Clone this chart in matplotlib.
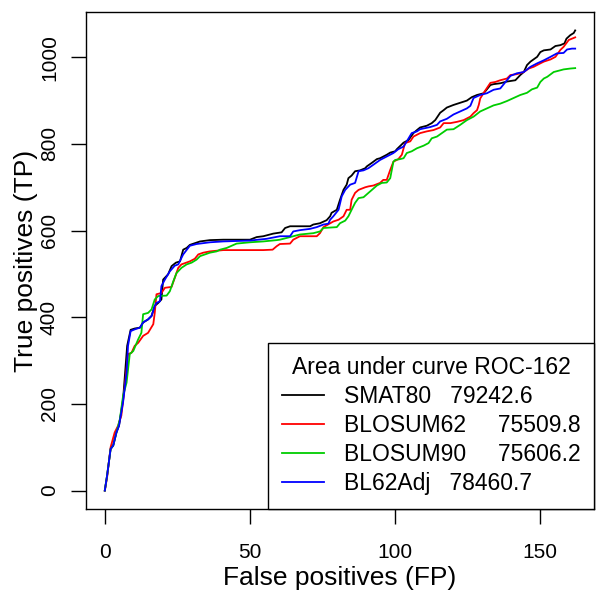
import matplotlib
matplotlib.use("Agg")
import matplotlib.pyplot as plt

plt.rcParams['font.family'] = ['Liberation Sans', 'DejaVu Sans']

# SMAT80
smat_fp = [0, 0.8, 2.0, 2.9, 4.0, 4.9, 6.3, 7.7, 8.9, 10.3, 12.1, 13.2, 14.9, 16.1, 17.2, 18.4,
           19.5, 20.1, 21.8, 23.0, 24.5, 25.9, 27.0, 28.2, 29.3, 32.8, 36.2, 40.8, 50.0, 52.3,
           54.6, 58.0, 60.9, 62.1, 63.8, 70.7, 71.8, 74.1, 76.4, 77.6, 78.1, 79.9, 81.0, 82.2,
           83.3, 83.9, 85.0, 86.2, 87.9, 89.7, 90.2, 91.9, 93.7, 94.8, 97.1, 98.3, 100.0, 100.6,
           102.9, 104.6, 106.3, 107.5, 108.6, 110.9, 112.6, 113.8, 115.5, 116.7, 117.8, 120.1,
           122.4, 124.7, 126.4, 128.2, 130.5, 132.8, 133.9, 136.2, 138.5, 141.4, 143.1, 144.3,
           145.4, 146.6, 148.9, 150.0, 151.2, 153.5, 155.2, 156.9, 158.3, 159.0, 160.3, 161.5, 162.0]
smat_tp = [0, 35, 96, 104, 134, 150, 211, 334, 371, 374, 376, 388, 395, 403, 426, 433,
           441, 487, 499, 518, 526, 529, 556, 560, 567, 575, 578, 579, 579, 585,
           587, 593, 596, 606, 610, 610, 614, 617, 624, 633, 641, 648, 671, 694,
           706, 721, 727, 737, 739, 744, 748, 756, 765, 767, 775, 780, 783, 788,
           803, 809, 825, 832, 838, 842, 848, 855, 872, 878, 884, 890,
           895, 900, 908, 913, 917, 936, 938, 940, 944, 947, 959, 966,
           982, 990, 1001, 1012, 1016, 1018, 1026, 1028, 1032, 1043, 1051, 1056, 1062]

# BLOSUM62
b62_fp = [0, 0.8, 2.0, 3.4, 4.6, 5.7, 6.9, 8.0, 9.2, 10.3, 11.5, 13.2, 14.9, 16.7, 17.2, 17.8,
          19.5, 20.7, 23.0, 24.1, 25.3, 26.4, 29.3, 31.0, 32.2, 33.9, 36.2, 40.8, 54.6, 57.8,
          59.2, 60.3, 63.8, 64.9, 67.2, 73.0, 74.1, 75.3, 78.7, 80.5, 82.2, 83.3, 84.5, 85.0,
          86.2, 87.4, 89.7, 90.8, 92.5, 94.8, 95.9, 97.1, 98.3, 99.4, 101.1, 102.3, 103.4, 105.2,
          106.3, 108.6, 110.9, 113.2, 115.5, 116.7, 119.0, 121.3, 123.6, 125.9, 127.0, 128.2,
          128.8, 129.3, 130.5, 132.8, 134.5, 136.2, 138.5, 139.7, 141.9, 144.3, 146.0, 147.7,
          150.0, 151.2, 153.5, 155.2, 156.9, 158.0, 159.8, 160.9, 162.0]
b62_tp = [0, 31, 100, 134, 150, 173, 242, 315, 318, 334, 341, 357, 364, 384, 410, 453,
          456, 468, 470, 491, 514, 522, 529, 535, 545, 549, 552, 555, 555, 556,
          564, 569, 570, 579, 587, 587, 594, 608, 621, 625, 633, 648, 648, 671,
          687, 694, 700, 702, 704, 710, 717, 717, 740, 759, 765, 775, 802, 806,
          817, 825, 829, 832, 838, 848, 848, 851, 855, 863, 871, 878,
          890, 905, 918, 941, 943, 947, 951, 959, 961, 966, 974, 978,
          986, 990, 995, 1001, 1017, 1024, 1040, 1043, 1046]

# BLOSUM90
b90_fp = [0, 0.8, 2.0, 2.9, 4.0, 5.2, 6.3, 7.5, 8.6, 9.8, 11.5, 12.6, 13.2, 14.9, 16.1, 17.2,
          18.4, 21.3, 22.4, 23.6, 24.7, 26.4, 28.2, 29.9, 31.6, 32.8, 34.5, 36.2, 38.5, 39.7,
          42.0, 45.4, 50.0, 54.6, 59.2, 60.3, 63.8, 67.2, 71.8, 74.1, 75.3, 79.9, 81.0, 82.8,
          83.9, 85.0, 86.2, 87.4, 89.1, 90.8, 92.0, 93.7, 95.4, 97.1, 98.3, 99.4, 100.0, 101.7,
          102.9, 104.0, 105.7, 107.5, 109.8, 111.5, 112.6, 114.4, 116.1, 117.8, 120.1, 122.4,
          124.7, 127.0, 129.3, 131.6, 133.9, 136.2, 138.5, 140.8, 143.1, 145.4, 147.1, 148.9,
          150.0, 151.2, 152.4, 154.6, 156.9, 158.0, 160.3, 162.0]
b90_tp = [0, 35, 96, 104, 134, 165, 219, 249, 315, 322, 349, 364, 407, 410, 418, 441,
          449, 450, 460, 483, 502, 514, 522, 526, 533, 541, 545, 549, 552, 556,
          560, 570, 573, 575, 578, 579, 585, 591, 594, 598, 606, 608, 617, 623,
          633, 648, 664, 675, 677, 687, 694, 704, 710, 711, 721, 759, 763, 765,
          767, 779, 783, 790, 796, 802, 813, 817, 825, 833, 834, 844,
          855, 863, 875, 882, 889, 893, 899, 906, 913, 918, 926, 930,
          943, 951, 955, 966, 970, 972, 974, 975]

# BL62Adj
adj_fp = [0, 0.8, 2.0, 2.9, 4.0, 4.9, 6.3, 7.5, 8.0, 8.9, 10.3, 12.1, 13.2, 14.9, 16.1, 17.2,
          17.8, 19.0, 19.5, 20.7, 22.4, 24.1, 25.3, 27.0, 29.3, 31.6, 36.2, 40.8, 50.0, 55.7,
          60.3, 63.8, 64.9, 67.2, 70.7, 73.0, 75.3, 77.0, 77.6, 78.7, 80.5, 81.6, 82.8, 84.5,
          86.2, 87.4, 89.1, 90.8, 92.5, 94.8, 97.1, 99.4, 101.1, 102.9, 104.0, 105.7, 107.5, 108.6,
          112.1, 114.4, 115.5, 117.8, 120.1, 122.4, 124.7, 125.9, 127.0, 129.3, 131.6, 133.9,
          136.2, 139.7, 141.9, 144.3, 146.6, 148.9, 151.2, 153.5, 155.7, 158.0, 159.2, 160.9, 162.0]
adj_tp = [0, 35, 96, 104, 134, 150, 204, 272, 334, 368, 372, 376, 388, 395, 403, 426,
          433, 437, 472, 487, 506, 519, 522, 545, 565, 569, 573, 575, 577, 581,
          587, 587, 598, 601, 604, 608, 614, 616, 625, 633, 648, 679, 694, 706,
          710, 737, 739, 744, 752, 763, 771, 779, 788, 794, 806, 825, 829, 834,
          839, 844, 852, 858, 868, 875, 882, 888, 906, 913, 917, 925,
          928, 957, 963, 966, 978, 986, 993, 1001, 1009, 1010, 1018, 1020, 1020]

labels = ["SMAT80   79242.6", "BLOSUM62     75509.8", "BLOSUM90     75606.2", "BL62Adj   78460.7"]
colors = ["black", "#FF0000", "#00CD00", "#0000FF"]

fig = plt.figure(figsize=(6, 6), dpi=100)
ax = fig.add_axes([0.1433, 0.1517, 0.8467, 0.8283])

series = [(smat_fp, smat_tp), (b62_fp, b62_tp), (b90_fp, b90_tp), (adj_fp, adj_tp)]
for (fp, tp), lab, col in zip(series, labels, colors):
    ax.plot(fp, tp, color=col, lw=1.3, label=lab)

ax.set_xlim(-6.48, 168.48)
ax.set_ylim(-42.5, 1104.5)
ax.set_xticks([0, 50, 100, 150])
ax.set_yticks([0, 200, 400, 600, 800, 1000])
for s in ax.spines.values():
    s.set_linewidth(1.0)
ax.tick_params(axis='both', direction='out', length=10.5, width=1.0, labelsize=15)
ax.tick_params(axis='x', pad=14)
ax.tick_params(axis='y', pad=9)
for t in ax.get_yticklabels():
    t.set_rotation(90)
    t.set_va('center')

ax.set_xlabel("False positives (FP)", fontsize=19)
ax.xaxis.set_label_coords(0.5, -0.153)
ax.xaxis.label.set_va('baseline')
ax.set_ylabel("True positives (TP)", fontsize=19)
ax.yaxis.set_label_coords(-0.104, 0.5)
ax.yaxis.label.set_va('baseline')

leg = ax.legend(loc='lower right', title="Area under curve ROC-162", fontsize=16.5,
                title_fontsize=16.5, fancybox=False, framealpha=1, edgecolor='black',
                borderaxespad=0, borderpad=0.6, handlelength=1.85, handletextpad=0.85,
                labelspacing=0.26)
leg.get_frame().set_linewidth(1.0)

fig.savefig("out.png", dpi=100)
